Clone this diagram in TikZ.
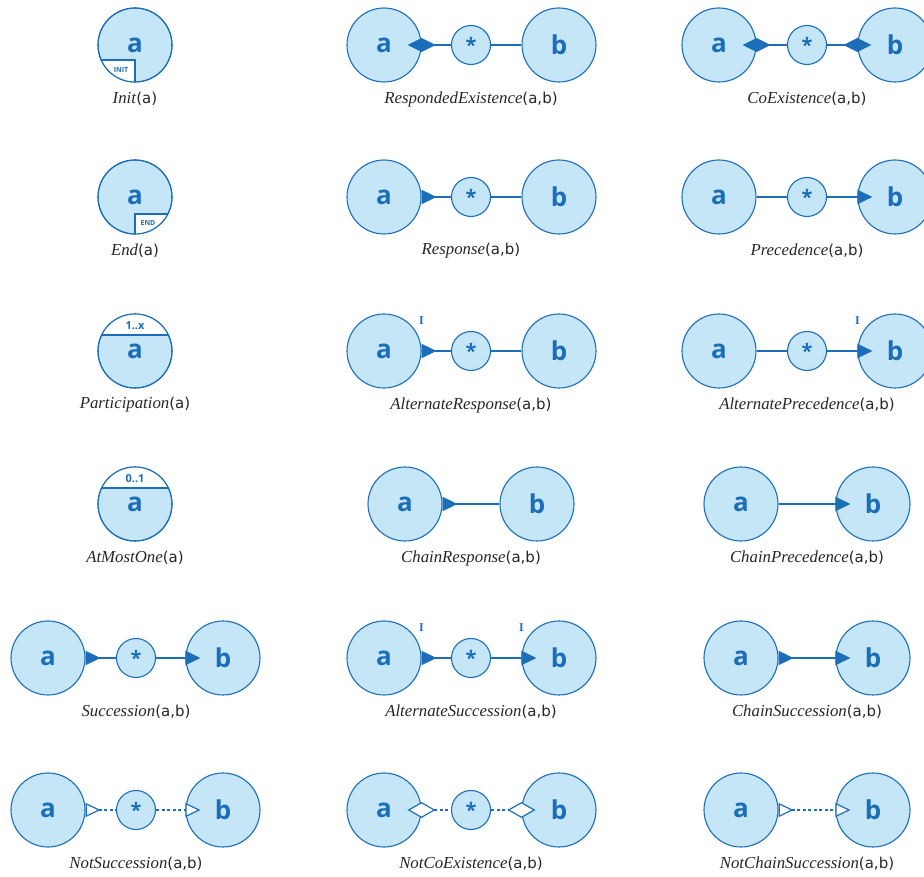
\documentclass[tikz,border=0pt]{standalone}
\usepackage{fontspec}
\setmainfont{Liberation Serif}
\setsansfont{Open Sans}
\newfontfamily\argfont{DejaVu Sans}
\usetikzlibrary{arrows.meta,positioning}
\definecolor{lblue}{RGB}{197,230,247}
\definecolor{dblue}{RGB}{27,110,183}
\tikzset{
  act/.style={circle,draw=dblue,fill=lblue,line width=1.1pt,minimum size=74pt,inner sep=0pt,
    text=dblue,font=\sffamily\bfseries\fontsize{26}{26}\selectfont},
  any/.style={act,minimum size=39pt,font=\sffamily\bfseries\fontsize{20}{20}\selectfont},
  con/.style={draw=dblue,line width=2pt},
  neg/.style={draw=dblue,line width=1.2pt,dash pattern=on 3pt off 2.5pt},
  lbl/.style={text=black!85,font=\fontsize{16.8}{16.8}\selectfont},
  alt/.style={text=dblue,inner sep=0pt,font=\bfseries\fontsize{12}{12}\selectfont},
  tag/.style={text=dblue,font=\sffamily\bfseries\fontsize{7}{7}\selectfont},
  card/.style={text=dblue,font=\sffamily\bfseries\fontsize{11}{11}\selectfont},
  edge/.style={dblue,line width=1.1pt},
  tri/.tip={Triangle[length=15pt,width=14pt]},
  rtri/.tip={Triangle[reversed,length=15pt,width=14pt]},
  dia/.tip={Diamond[length=28pt,width=14pt]},
  otri/.tip={Triangle[length=15pt,width=14pt,fill=white,line width=1.2pt]},
  ortri/.tip={Triangle[reversed,length=15pt,width=14pt,fill=white,line width=1.2pt]},
  odia/.tip={Diamond[length=28pt,width=16pt,fill=white,line width=1.2pt]},
}
\newcommand{\anyact}{\raisebox{-0.42em}{*}}
\newcommand{\args}[1]{{\argfont\fontsize{15}{15}\selectfont(#1)}}
\begin{document}
\begin{tikzpicture}[x=1pt,y=1pt]
  \useasboundingbox (0,0) rectangle (924,876);

  % column 1
  \begin{scope}[shift={(135,831)}]
    \node[act] (in-a) at (0,0) {a};
    \begin{scope}
      \clip (in-a.center) circle (37pt);
      \fill[white] (-40,-40) rectangle (0,-15);
      \draw[edge] (-40,-15) -- (0,-15) -- (0,-40);
    \end{scope}
    \draw[edge] (in-a.center) circle (37pt);
    \node[tag] (in-t) at (-14,-25) {INIT};
    \node[lbl] (in-l) at (0,-54) {\textit{Init}\args{a}};
  \end{scope}
  \begin{scope}[shift={(135,679)}]
    \node[act] (en-a) at (0,0) {a};
    \begin{scope}
      \clip (en-a.center) circle (37pt);
      \fill[white] (0,-17) rectangle (40,-40);
      \draw[edge] (40,-17) -- (0,-17) -- (0,-40);
    \end{scope}
    \draw[edge] (en-a.center) circle (37pt);
    \node[tag] (en-t) at (13,-26) {END};
    \node[lbl] (en-l) at (0,-54) {\textit{End}\args{a}};
  \end{scope}
  \begin{scope}[shift={(135,525)}]
    \node[act] (pa-a) at (0,0) {a};
    \begin{scope}
      \clip (pa-a.center) circle (37pt);
      \fill[white] (-40,16) rectangle (40,40);
      \draw[edge] (-40,16) -- (40,16);
    \end{scope}
    \draw[edge] (pa-a.center) circle (37pt);
    \node[card] (pa-c) at (0,25) {1..x};
    \node[lbl] (pa-l) at (0,-54) {\textit{Participation}\args{a}};
  \end{scope}
  \begin{scope}[shift={(135,372)}]
    \node[act] (am-a) at (0,0) {a};
    \begin{scope}
      \clip (am-a.center) circle (37pt);
      \fill[white] (-40,16) rectangle (40,40);
      \draw[edge] (-40,16) -- (40,16);
    \end{scope}
    \draw[edge] (am-a.center) circle (37pt);
    \node[card] (am-c) at (0,25) {0..1};
    \node[lbl] (am-l) at (0,-54) {\textit{AtMostOne}\args{a}};
  \end{scope}
  \begin{scope}[shift={(136,218)}]
    \node[act] (su-a) at (-88,0) {a};
    \node[any] (su-s) at (0,0) {\anyact};
    \node[act] (su-b) at (87,0) {b};
    \draw[con,rtri-] (su-a) -- (su-s);
    \draw[con,-tri,shorten >=-15pt] (su-s) -- (su-b);
    \node[lbl] (su-l) at (0,-54) {\textit{Succession}\args{a,b}};
  \end{scope}
  \begin{scope}[shift={(136,66)}]
    \node[act] (ns-a) at (-88,0) {a};
    \node[any] (ns-s) at (0,0) {\anyact};
    \node[act] (ns-b) at (87,0) {b};
    \draw[neg,ortri-] (ns-a) -- (ns-s);
    \draw[neg,-otri,shorten >=-15pt] (ns-s) -- (ns-b);
    \node[lbl] (ns-l) at (0,-54) {\textit{NotSuccession}\args{a,b}};
  \end{scope}

  % column 2
  \begin{scope}[shift={(471,831)}]
    \node[act] (re-a) at (-87,0) {a};
    \node[any] (re-s) at (0,0) {\anyact};
    \node[act] (re-b) at (88,0) {b};
    \draw[con,dia-,shorten <=-14pt] (re-a) -- (re-s);
    \draw[con] (re-s) -- (re-b);
    \node[lbl] (re-l) at (0,-54) {\textit{RespondedExistence}\args{a,b}};
  \end{scope}
  \begin{scope}[shift={(471,679)}]
    \node[act] (rs-a) at (-87,0) {a};
    \node[any] (rs-s) at (0,0) {\anyact};
    \node[act] (rs-b) at (88,0) {b};
    \draw[con,rtri-] (rs-a) -- (rs-s);
    \draw[con] (rs-s) -- (rs-b);
    \node[lbl] (rs-l) at (0,-54) {\textit{Response}\args{a,b}};
  \end{scope}
  \begin{scope}[shift={(471,525)}]
    \node[act] (ar-a) at (-87,0) {a};
    \node[any] (ar-s) at (0,0) {\anyact};
    \node[act] (ar-b) at (88,0) {b};
    \draw[con,rtri-] (ar-a) -- (ar-s);
    \draw[con] (ar-s) -- (ar-b);
    \node[alt,above=26pt of ar-a.east] (ar-i) {I};
    \node[lbl] (ar-l) at (0,-54) {\textit{AlternateResponse}\args{a,b}};
  \end{scope}
  \begin{scope}[shift={(471,372)}]
    \node[act] (cr-a) at (-66,0) {a};
    \node[act] (cr-b) at (66,0) {b};
    \draw[con,rtri-] (cr-a) -- (cr-b);
    \node[lbl] (cr-l) at (0,-54) {\textit{ChainResponse}\args{a,b}};
  \end{scope}
  \begin{scope}[shift={(471,218)}]
    \node[act] (as-a) at (-87,0) {a};
    \node[any] (as-s) at (0,0) {\anyact};
    \node[act] (as-b) at (88,0) {b};
    \draw[con,rtri-] (as-a) -- (as-s);
    \draw[con,-tri,shorten >=-15pt] (as-s) -- (as-b);
    \node[alt,above=26pt of as-a.east] (as-i) {I};
    \node[alt,above=26pt of as-b.west] (as-j) {I};
    \node[lbl] (as-l) at (0,-54) {\textit{AlternateSuccession}\args{a,b}};
  \end{scope}
  \begin{scope}[shift={(471,66)}]
    \node[act] (nc-a) at (-87,0) {a};
    \node[any] (nc-s) at (0,0) {\anyact};
    \node[act] (nc-b) at (88,0) {b};
    \draw[neg,odia-,shorten <=-14pt] (nc-a) -- (nc-s);
    \draw[neg,-odia,shorten >=-14pt] (nc-s) -- (nc-b);
    \node[lbl] (nc-l) at (0,-54) {\textit{NotCoExistence}\args{a,b}};
  \end{scope}

  % column 3
  \begin{scope}[shift={(807,831)}]
    \node[act] (co-a) at (-88,0) {a};
    \node[any] (co-s) at (0,0) {\anyact};
    \node[act] (co-b) at (88,0) {b};
    \draw[con,dia-,shorten <=-14pt] (co-a) -- (co-s);
    \draw[con,-dia,shorten >=-14pt] (co-s) -- (co-b);
    \node[lbl] (co-l) at (0,-54) {\textit{CoExistence}\args{a,b}};
  \end{scope}
  \begin{scope}[shift={(807,679)}]
    \node[act] (pr-a) at (-88,0) {a};
    \node[any] (pr-s) at (0,0) {\anyact};
    \node[act] (pr-b) at (88,0) {b};
    \draw[con] (pr-a) -- (pr-s);
    \draw[con,-tri,shorten >=-15pt] (pr-s) -- (pr-b);
    \node[lbl] (pr-l) at (0,-54) {\textit{Precedence}\args{a,b}};
  \end{scope}
  \begin{scope}[shift={(807,525)}]
    \node[act] (ap-a) at (-88,0) {a};
    \node[any] (ap-s) at (0,0) {\anyact};
    \node[act] (ap-b) at (88,0) {b};
    \draw[con] (ap-a) -- (ap-s);
    \draw[con,-tri,shorten >=-15pt] (ap-s) -- (ap-b);
    \node[alt,above=26pt of ap-b.west] (ap-i) {I};
    \node[lbl] (ap-l) at (0,-54) {\textit{AlternatePrecedence}\args{a,b}};
  \end{scope}
  \begin{scope}[shift={(807,372)}]
    \node[act] (cp-a) at (-66,0) {a};
    \node[act] (cp-b) at (66,0) {b};
    \draw[con,-tri,shorten >=-15pt] (cp-a) -- (cp-b);
    \node[lbl] (cp-l) at (0,-54) {\textit{ChainPrecedence}\args{a,b}};
  \end{scope}
  \begin{scope}[shift={(807,218)}]
    \node[act] (cs-a) at (-66,0) {a};
    \node[act] (cs-b) at (66,0) {b};
    \draw[con,rtri-tri,shorten >=-15pt] (cs-a) -- (cs-b);
    \node[lbl] (cs-l) at (0,-54) {\textit{ChainSuccession}\args{a,b}};
  \end{scope}
  \begin{scope}[shift={(807,66)}]
    \node[act] (nx-a) at (-66,0) {a};
    \node[act] (nx-b) at (66,0) {b};
    \draw[neg,ortri-otri,shorten >=-15pt] (nx-a) -- (nx-b);
    \node[lbl] (nx-l) at (0,-54) {\textit{NotChainSuccession}\args{a,b}};
  \end{scope}
\end{tikzpicture}
\end{document}
